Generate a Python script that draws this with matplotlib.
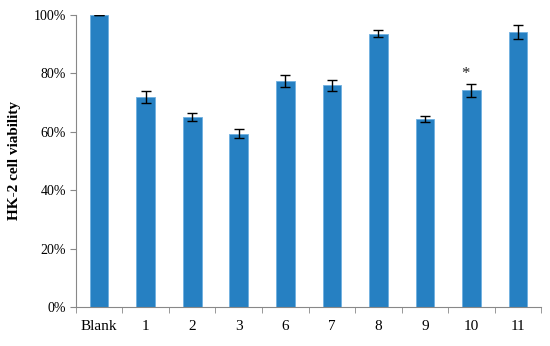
import numpy as np
import matplotlib
matplotlib.use('Agg')
import matplotlib.pyplot as plt
from matplotlib.ticker import FuncFormatter, FixedLocator

groupes = ['Blank', '1', '2', '3', '6', '7', '8', '9', '10', '11']
viabilite = [100.0, 72.0, 65.0, 59.4, 77.4, 75.9, 93.6, 64.4, 74.2, 94.1]
erreurs = [0.0, 2.1, 1.3, 1.4, 1.9, 1.9, 1.1, 0.9, 2.3, 2.4]
etoile = '10'

plt.rcParams['font.family'] = ['Liberation Serif', 'DejaVu Serif']

fig = plt.figure(figsize=(5.5, 3.46), dpi=100)
ax = fig.add_axes([0.138, 0.1127, 0.846, 0.844])

x = np.arange(len(groupes))
ax.bar(x, viabilite, width=0.4, color='#2680C2', edgecolor='#6FB0E0', linewidth=0.6,
       yerr=erreurs, error_kw=dict(ecolor='black', elinewidth=1.0, capsize=3.5, capthick=1.0))

# astérisque au-dessus du groupe 10
i = groupes.index(etoile)
ax.text(x[i] - 0.12, viabilite[i] + erreurs[i] + 3.2, '*', ha='center', va='center', fontsize=12, color='#222222')

ax.set_xlim(-0.5, len(groupes) - 0.5)
ax.set_ylim(0, 100)
ax.set_yticks(np.arange(0, 101, 20))
ax.yaxis.set_major_formatter(FuncFormatter(lambda v, p: f'{int(v)}%'))
ax.set_xticks(x)
ax.set_xticklabels(groupes, fontsize=11)
ax.xaxis.set_minor_locator(FixedLocator(np.arange(-0.5, len(groupes), 1.0)))
ax.tick_params(axis='x', which='major', length=0, pad=9)
ax.tick_params(axis='x', which='minor', length=4, color='#888888', direction='out')
ax.tick_params(axis='y', length=4, color='#888888', labelsize=10, pad=3)

ax.set_ylabel('HK-2 cell viability', fontsize=11, fontweight='bold', labelpad=9)

ax.spines['top'].set_visible(False)
ax.spines['right'].set_visible(False)
ax.spines['bottom'].set_color('#888888')
ax.spines['left'].set_color('#888888')

fig.savefig('out.png', dpi=100)
